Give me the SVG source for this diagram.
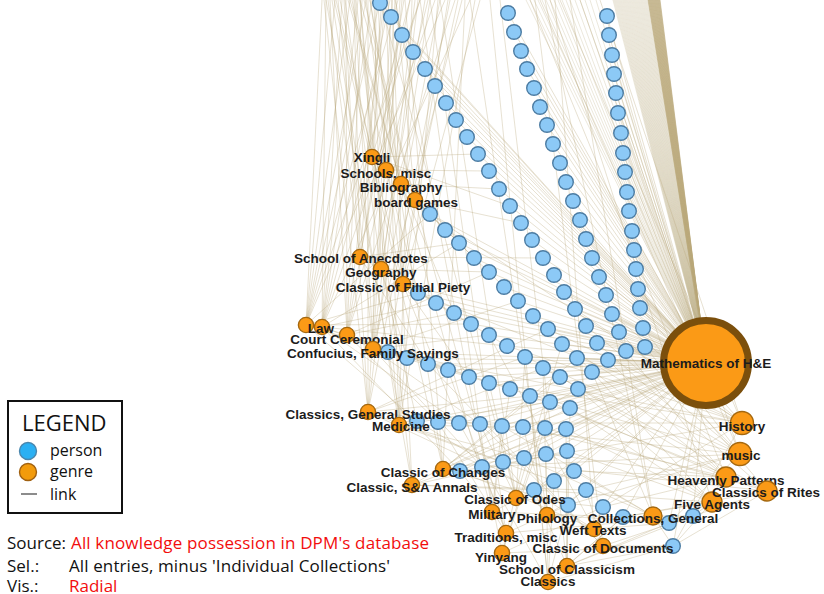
<svg xmlns="http://www.w3.org/2000/svg" width="824" height="594" viewBox="0 0 824 594">
<style>
.e{fill:none;stroke:#b9a77a;stroke-opacity:.45;stroke-width:.75}
.eh{fill:none;stroke:#bba97a;stroke-opacity:.7;stroke-width:.9}
.el{fill:none;stroke:#c4b68e;stroke-opacity:.45;stroke-width:.7}
.p circle{fill:#8cc9f6;stroke:#4c7ca3;stroke-width:1.4}
.g circle{fill:#fb9a16;stroke:#a5680f;stroke-width:1.4}
.g text{font-family:"Liberation Sans",Arial,sans-serif;font-weight:bold;font-size:13.5px;fill:#1c1c1c;text-anchor:middle}
.lg{font-family:"Open Sans","Noto Sans",sans-serif;fill:#111}
.red{fill:#f20d0d}
</style>
<rect width="824" height="594" fill="#fff"/>
<g id="connectors">
<path class="eh" d="M706 363L660 0M706 363L659.5 0M706 363L659 0M706 363L658.5 0M706 363L658 0M706 363L657.5 0M706 363L657 0M706 363L656.5 0M706 363L656 0"/>
<path class="eh" d="M706 363L655.5 0M706 363L655 0M706 363L654.5 0M706 363L654 0M706 363L653.5 0M706 363L653 0M706 363L652.5 0M706 363L652 0"/>
<path class="eh" d="M706 363L651.5 0M706 363L651 0M706 363L650.5 0M706 363L650 0M706 363L649.5 0M706 363L649 0M706 363L648.5 0M706 363L648 0"/>
<path class="el" d="M706 363L647 0M706 363L645 0M706 363L643 0M706 363L641 0M706 363L639 0M706 363L637 0M706 363L635 0M706 363L633 0M706 363L631 0M706 363L629 0M706 363L627 0M706 363L625 0M706 363L623 0M706 363L621 0M706 363L619 0M706 363L617 0M706 363L615 0M706 363L613 0"/>
<path class="el" d="M706 363L646 0M706 363L644 0M706 363L642 0M706 363L640 0M706 363L638 0M706 363L636 0M706 363L634 0M706 363L632 0M706 363L630 0M706 363L628 0M706 363L626 0M706 363L624 0M706 363L622 0M706 363L620 0M706 363L618 0M706 363L616 0M706 363L614 0"/>
<path class="el" d="M706 363L526 0M706 363L530 0M706 363L534 0M706 363L538 0M706 363L542 0M706 363L546 0M706 363L550 0M706 363L554 0M706 363L558 0M706 363L562 0M706 363L566 0M706 363L570 0M706 363L575 0M706 363L580 0M706 363L585 0M706 363L590 0M706 363L596 0"/>
<path class="e" d="M706 363L380 3M706 363L391 17M706 363L402 35M706 363L413 52M706 363L425 69M706 363L435 86M706 363L446 103M706 363L456 120M706 363L467 137M706 363L478 154M706 363L489 171M706 363L499 189M706 363L510 206M706 363L521 223M706 363L532 240M706 363L543 258M706 363L554 275M706 363L564 292M706 363L575 309M706 363L586 326M706 363L597 343M706 363L608 360"/>
<path class="e" d="M706 363L508 13M706 363L514 32M706 363L521 51M706 363L527 69M706 363L534 88M706 363L540 107M706 363L547 125M706 363L553 144M706 363L560 163M706 363L566 182M706 363L573 201M706 363L580 220M706 363L586 239M706 363L592 258M706 363L599 277M706 363L606 295M706 363L612 314M706 363L619 332M706 363L626 351"/>
<path class="e" d="M706 363L607 16M706 363L609 35M706 363L612 55M706 363L614 74M706 363L616 93M706 363L618 113M706 363L621 133M706 363L623 153M706 363L625 172M706 363L627 192M706 363L629 211M706 363L632 231M706 363L634 250M706 363L636 269M706 363L638 289M706 363L640 308M706 363L643 328M706 363L645 347"/>
<path class="e" d="M706 363L430 214M706 363L445 230M706 363L459 243M706 363L474 258M706 363L489 272M706 363L504 287M706 363L518 301M706 363L533 316M706 363L548 329M706 363L562 344M706 363L577 358M706 363L592 372"/>
<path class="e" d="M706 363L418 293M706 363L436 303M706 363L454 313M706 363L471 324M706 363L489 335M706 363L507 346M706 363L525 357M706 363L543 368M706 363L560 377M706 363L578 389"/>
<path class="e" d="M706 363L388 352M706 363L407 358M706 363L428 364M706 363L448 370M706 363L469 377M706 363L489 383M706 363L510 389M706 363L530 396M706 363L550 402M706 363L570 408"/>
<path class="e" d="M706 363L417 421M706 363L438 422M706 363L459 423M706 363L480 424M706 363L502 426M706 363L523 427M706 363L545 428M706 363L566 429"/>
<path class="e" d="M706 363L460 471M706 363L482 467M706 363L503 462M706 363L524 458M706 363L546 454M706 363L567 451M706 363L574 471M706 363L554 481M706 363L534 490M706 363L586 490M706 363L568 505M706 363L603 507M706 363L623 517M706 363L669 523M706 363L693 516M706 363L673 546"/>
<path class="e" d="M306 325L322 0M306 325L335 0M306 325L350 0M306 325L366 0M306 325L380 0M306 325L398 0M306 325L420 0M306 325L445 0M306 325L388 352M306 325L418 293M306 325L430 214M306 325L417 421M306 325L448 370M306 325L471 324"/>
<path class="e" d="M322 327L326 0M322 327L342 0M322 327L358 0M322 327L372 0M322 327L390 0M322 327L410 0M322 327L435 0M322 327L470 0M322 327L407 358M322 327L436 303M322 327L459 243M322 327L459 423M322 327L489 383M322 327L507 346M322 327L460 471"/>
<path class="e" d="M347 335L330 0M347 335L346 0M347 335L362 0M347 335L384 0M347 335L404 0M347 335L428 0M347 335L455 0M347 335L428 364M347 335L454 313M347 335L438 422M347 335L489 272M347 335L510 389"/>
<path class="e" d="M373 349L338 0M373 349L355 0M373 349L376 0M373 349L395 0M373 349L415 0M373 349L440 0M373 349L462 0M373 349L489 335M373 349L469 377M373 349L480 424M373 349L518 301M373 349L482 467"/>
<path class="e" d="M368 412L324 0M368 412L344 0M368 412L368 0M368 412L392 0M368 412L418 0M368 412L450 0M368 412L502 426M368 412L530 396M368 412L525 357M368 412L503 462M368 412L548 329M368 412L534 490"/>
<path class="e" d="M399 425L332 0M399 425L360 0M399 425L386 0M399 425L412 0M399 425L438 0M399 425L475 0M399 425L523 427M399 425L550 402M399 425L543 368M399 425L524 458M399 425L554 481"/>
<path class="e" d="M372 157L340 0M372 157L360 0M372 157L385 0M372 157L420 0M372 157L478 154M372 157L445 230M372 157L510 206"/>
<path class="e" d="M386 170L352 0M386 170L378 0M386 170L402 0M386 170L489 171M386 170L474 258M386 170L418 293"/>
<path class="e" d="M401 184L348 0M401 184L370 0M401 184L430 0M401 184L499 189M401 184L430 214M401 184L454 313"/>
<path class="e" d="M415 200L364 0M415 200L396 0M415 200L458 0M415 200L521 223M415 200L504 287M415 200L388 352"/>
<path class="e" d="M360 257L328 0M360 257L354 0M360 257L382 0M360 257L410 0M360 257L459 243M360 257L436 303M360 257L428 364M360 257L543 258"/>
<path class="e" d="M381 269L345 0M381 269L374 0M381 269L400 0M381 269L425 0M381 269L489 272M381 269L471 324M381 269L407 358M381 269L417 421"/>
<path class="e" d="M403 284L336 0M403 284L366 0M403 284L392 0M403 284L448 0M403 284L480 0M403 284L533 316M403 284L507 346M403 284L469 377M403 284L459 423"/>
<path class="e" d="M443 469L334 0M443 469L370 0M443 469L405 0M443 469L465 0M443 469L546 454M443 469L545 428M443 469L570 408M443 469L560 377M443 469L568 505M443 469L577 358"/>
<path class="e" d="M412 485L326 0M412 485L356 0M412 485L388 0M412 485L567 451M412 485L566 429M412 485L534 490M412 485L578 389M412 485L586 490"/>
<path class="e" d="M516 498L380 0M516 498L440 0M516 498L574 471M516 498L480 424M516 498L489 383M516 498L603 507M516 498L562 344M516 498L525 357"/>
<path class="e" d="M492 512L350 0M492 512L420 0M492 512L554 481M492 512L460 471M492 512L502 426M492 512L623 517M492 512L510 389"/>
<path class="e" d="M547 515L470 0M547 515L586 490M547 515L503 462M547 515L523 427M547 515L669 523M547 515L543 368"/>
<path class="e" d="M506 533L360 0M506 533L430 0M506 533L568 505M506 533L482 467M506 533L438 422M506 533L448 370M506 533L693 516"/>
<path class="e" d="M502 553L395 0M502 553L603 507M502 553L524 458M502 553L545 428M502 553L550 402M502 553L673 546"/>
<path class="e" d="M567 566L500 0M567 566L623 517M567 566L669 523M567 566L693 516M567 566L673 546M567 566L567 451M567 566L566 429M567 566L570 408M567 566L534 490"/>
<path class="e" d="M548 582L490 0M548 582L673 546M548 582L623 517M548 582L546 454M548 582L459 423M548 582L530 396M548 582L568 505M548 582L554 481"/>
<path class="e" d="M594 529L555 0M594 529L669 523M594 529L603 507M594 529L460 471M594 529L417 421M594 529L489 335"/>
<path class="e" d="M603 546L535 0M603 546L693 516M603 546L673 546M603 546L586 490M603 546L480 424M603 546L428 364"/>
<path class="e" d="M653 516L545 0M653 516L570 0M653 516L669 523M653 516L693 516M653 516L673 546M653 516L574 471M653 516L524 458M653 516L502 426M653 516L592 372"/>
<path class="e" d="M712 502L550 0M712 502L693 516M712 502L669 523M712 502L673 546M712 502L623 517M712 502L567 451M712 502L566 429M712 502L578 389M712 502L570 408M712 502L592 372M712 502L534 490"/>
<path class="e" d="M726 477L530 0M726 477L693 516M726 477L603 507M726 477L546 454M726 477L523 427M726 477L560 377M726 477L577 358M726 477L550 402M726 477L608 360M726 477L626 351M726 477L574 471"/>
<path class="e" d="M767 491L693 516M767 491L673 546M767 491L623 517M767 491L545 428M767 491L503 462M767 491L530 396M767 491L543 368M767 491L645 347M767 491L597 343"/>
<path class="e" d="M740 454L540 0M740 454L580 0M740 454L669 523M740 454L586 490M740 454L482 467M740 454L438 422M740 454L510 389M740 454L525 357M740 454L562 344M740 454L619 332M740 454L586 326M740 454L643 328M740 454L568 505"/>
<path class="e" d="M742 423L560 0M742 423L600 0M742 423L673 546M742 423L603 507M742 423L460 471M742 423L459 423M742 423L489 383M742 423L507 346M742 423L548 329M742 423L575 309M742 423L612 314M742 423L640 308M742 423L388 352M742 423L418 293M742 423L430 214"/>
</g>
<g id="persons">
<g id="n-A0" class="p"><circle cx="380" cy="3" r="7.3"/></g>
<g id="n-A1" class="p"><circle cx="391" cy="17" r="7.3"/></g>
<g id="n-A2" class="p"><circle cx="402" cy="35" r="7.3"/></g>
<g id="n-A3" class="p"><circle cx="413" cy="52" r="7.3"/></g>
<g id="n-A4" class="p"><circle cx="425" cy="69" r="7.3"/></g>
<g id="n-A5" class="p"><circle cx="435" cy="86" r="7.3"/></g>
<g id="n-A6" class="p"><circle cx="446" cy="103" r="7.3"/></g>
<g id="n-A7" class="p"><circle cx="456" cy="120" r="7.3"/></g>
<g id="n-A8" class="p"><circle cx="467" cy="137" r="7.3"/></g>
<g id="n-A9" class="p"><circle cx="478" cy="154" r="7.3"/></g>
<g id="n-A10" class="p"><circle cx="489" cy="171" r="7.3"/></g>
<g id="n-A11" class="p"><circle cx="499" cy="189" r="7.3"/></g>
<g id="n-A12" class="p"><circle cx="510" cy="206" r="7.3"/></g>
<g id="n-A13" class="p"><circle cx="521" cy="223" r="7.3"/></g>
<g id="n-A14" class="p"><circle cx="532" cy="240" r="7.3"/></g>
<g id="n-A15" class="p"><circle cx="543" cy="258" r="7.3"/></g>
<g id="n-A16" class="p"><circle cx="554" cy="275" r="7.3"/></g>
<g id="n-A17" class="p"><circle cx="564" cy="292" r="7.3"/></g>
<g id="n-A18" class="p"><circle cx="575" cy="309" r="7.3"/></g>
<g id="n-A19" class="p"><circle cx="586" cy="326" r="7.3"/></g>
<g id="n-A20" class="p"><circle cx="597" cy="343" r="7.3"/></g>
<g id="n-A21" class="p"><circle cx="608" cy="360" r="7.3"/></g>
<g id="n-B0" class="p"><circle cx="508" cy="13" r="7.3"/></g>
<g id="n-B1" class="p"><circle cx="514" cy="32" r="7.3"/></g>
<g id="n-B2" class="p"><circle cx="521" cy="51" r="7.3"/></g>
<g id="n-B3" class="p"><circle cx="527" cy="69" r="7.3"/></g>
<g id="n-B4" class="p"><circle cx="534" cy="88" r="7.3"/></g>
<g id="n-B5" class="p"><circle cx="540" cy="107" r="7.3"/></g>
<g id="n-B6" class="p"><circle cx="547" cy="125" r="7.3"/></g>
<g id="n-B7" class="p"><circle cx="553" cy="144" r="7.3"/></g>
<g id="n-B8" class="p"><circle cx="560" cy="163" r="7.3"/></g>
<g id="n-B9" class="p"><circle cx="566" cy="182" r="7.3"/></g>
<g id="n-B10" class="p"><circle cx="573" cy="201" r="7.3"/></g>
<g id="n-B11" class="p"><circle cx="580" cy="220" r="7.3"/></g>
<g id="n-B12" class="p"><circle cx="586" cy="239" r="7.3"/></g>
<g id="n-B13" class="p"><circle cx="592" cy="258" r="7.3"/></g>
<g id="n-B14" class="p"><circle cx="599" cy="277" r="7.3"/></g>
<g id="n-B15" class="p"><circle cx="606" cy="295" r="7.3"/></g>
<g id="n-B16" class="p"><circle cx="612" cy="314" r="7.3"/></g>
<g id="n-B17" class="p"><circle cx="619" cy="332" r="7.3"/></g>
<g id="n-B18" class="p"><circle cx="626" cy="351" r="7.3"/></g>
<g id="n-C0" class="p"><circle cx="607" cy="16" r="7.3"/></g>
<g id="n-C1" class="p"><circle cx="609" cy="35" r="7.3"/></g>
<g id="n-C2" class="p"><circle cx="612" cy="55" r="7.3"/></g>
<g id="n-C3" class="p"><circle cx="614" cy="74" r="7.3"/></g>
<g id="n-C4" class="p"><circle cx="616" cy="93" r="7.3"/></g>
<g id="n-C5" class="p"><circle cx="618" cy="113" r="7.3"/></g>
<g id="n-C6" class="p"><circle cx="621" cy="133" r="7.3"/></g>
<g id="n-C7" class="p"><circle cx="623" cy="153" r="7.3"/></g>
<g id="n-C8" class="p"><circle cx="625" cy="172" r="7.3"/></g>
<g id="n-C9" class="p"><circle cx="627" cy="192" r="7.3"/></g>
<g id="n-C10" class="p"><circle cx="629" cy="211" r="7.3"/></g>
<g id="n-C11" class="p"><circle cx="632" cy="231" r="7.3"/></g>
<g id="n-C12" class="p"><circle cx="634" cy="250" r="7.3"/></g>
<g id="n-C13" class="p"><circle cx="636" cy="269" r="7.3"/></g>
<g id="n-C14" class="p"><circle cx="638" cy="289" r="7.3"/></g>
<g id="n-C15" class="p"><circle cx="640" cy="308" r="7.3"/></g>
<g id="n-C16" class="p"><circle cx="643" cy="328" r="7.3"/></g>
<g id="n-C17" class="p"><circle cx="645" cy="347" r="7.3"/></g>
<g id="n-D0" class="p"><circle cx="430" cy="214" r="7.3"/></g>
<g id="n-D1" class="p"><circle cx="445" cy="230" r="7.3"/></g>
<g id="n-D2" class="p"><circle cx="459" cy="243" r="7.3"/></g>
<g id="n-D3" class="p"><circle cx="474" cy="258" r="7.3"/></g>
<g id="n-D4" class="p"><circle cx="489" cy="272" r="7.3"/></g>
<g id="n-D5" class="p"><circle cx="504" cy="287" r="7.3"/></g>
<g id="n-D6" class="p"><circle cx="518" cy="301" r="7.3"/></g>
<g id="n-D7" class="p"><circle cx="533" cy="316" r="7.3"/></g>
<g id="n-D8" class="p"><circle cx="548" cy="329" r="7.3"/></g>
<g id="n-D9" class="p"><circle cx="562" cy="344" r="7.3"/></g>
<g id="n-D10" class="p"><circle cx="577" cy="358" r="7.3"/></g>
<g id="n-D11" class="p"><circle cx="592" cy="372" r="7.3"/></g>
<g id="n-E0" class="p"><circle cx="418" cy="293" r="7.3"/></g>
<g id="n-E1" class="p"><circle cx="436" cy="303" r="7.3"/></g>
<g id="n-E2" class="p"><circle cx="454" cy="313" r="7.3"/></g>
<g id="n-E3" class="p"><circle cx="471" cy="324" r="7.3"/></g>
<g id="n-E4" class="p"><circle cx="489" cy="335" r="7.3"/></g>
<g id="n-E5" class="p"><circle cx="507" cy="346" r="7.3"/></g>
<g id="n-E6" class="p"><circle cx="525" cy="357" r="7.3"/></g>
<g id="n-E7" class="p"><circle cx="543" cy="368" r="7.3"/></g>
<g id="n-E8" class="p"><circle cx="560" cy="377" r="7.3"/></g>
<g id="n-E9" class="p"><circle cx="578" cy="389" r="7.3"/></g>
<g id="n-F0" class="p"><circle cx="388" cy="352" r="7.3"/></g>
<g id="n-F1" class="p"><circle cx="407" cy="358" r="7.3"/></g>
<g id="n-F2" class="p"><circle cx="428" cy="364" r="7.3"/></g>
<g id="n-F3" class="p"><circle cx="448" cy="370" r="7.3"/></g>
<g id="n-F4" class="p"><circle cx="469" cy="377" r="7.3"/></g>
<g id="n-F5" class="p"><circle cx="489" cy="383" r="7.3"/></g>
<g id="n-F6" class="p"><circle cx="510" cy="389" r="7.3"/></g>
<g id="n-F7" class="p"><circle cx="530" cy="396" r="7.3"/></g>
<g id="n-F8" class="p"><circle cx="550" cy="402" r="7.3"/></g>
<g id="n-F9" class="p"><circle cx="570" cy="408" r="7.3"/></g>
<g id="n-G0" class="p"><circle cx="417" cy="421" r="7.3"/></g>
<g id="n-G1" class="p"><circle cx="438" cy="422" r="7.3"/></g>
<g id="n-G2" class="p"><circle cx="459" cy="423" r="7.3"/></g>
<g id="n-G3" class="p"><circle cx="480" cy="424" r="7.3"/></g>
<g id="n-G4" class="p"><circle cx="502" cy="426" r="7.3"/></g>
<g id="n-G5" class="p"><circle cx="523" cy="427" r="7.3"/></g>
<g id="n-G6" class="p"><circle cx="545" cy="428" r="7.3"/></g>
<g id="n-G7" class="p"><circle cx="566" cy="429" r="7.3"/></g>
<g id="n-H0" class="p"><circle cx="460" cy="471" r="7.3"/></g>
<g id="n-H1" class="p"><circle cx="482" cy="467" r="7.3"/></g>
<g id="n-H2" class="p"><circle cx="503" cy="462" r="7.3"/></g>
<g id="n-H3" class="p"><circle cx="524" cy="458" r="7.3"/></g>
<g id="n-H4" class="p"><circle cx="546" cy="454" r="7.3"/></g>
<g id="n-H5" class="p"><circle cx="567" cy="451" r="7.3"/></g>
<g id="n-K0" class="p"><circle cx="574" cy="471" r="7.3"/></g>
<g id="n-K1" class="p"><circle cx="554" cy="481" r="7.3"/></g>
<g id="n-K2" class="p"><circle cx="534" cy="490" r="7.3"/></g>
<g id="n-K3" class="p"><circle cx="586" cy="490" r="7.3"/></g>
<g id="n-K4" class="p"><circle cx="568" cy="505" r="7.3"/></g>
<g id="n-K5" class="p"><circle cx="603" cy="507" r="7.3"/></g>
<g id="n-K6" class="p"><circle cx="623" cy="517" r="7.3"/></g>
<g id="n-K7" class="p"><circle cx="669" cy="523" r="7.3"/></g>
<g id="n-K8" class="p"><circle cx="693" cy="516" r="7.3"/></g>
<g id="n-K9" class="p"><circle cx="673" cy="546" r="7.3"/></g>
</g>
<g id="genres">
<g id="hub-mathematics" class="g"><circle cx="706" cy="363" r="42.5" style="stroke:#7b4f0c;stroke-width:7"/><text x="706" y="368">Mathematics of H&amp;E</text></g>
<g id="g-unlabeled" class="g"><circle cx="306" cy="325" r="7.6"/></g>
<g id="g-xingli" class="g"><circle cx="372" cy="157" r="7.6"/><text x="372" y="162">Xingli</text></g>
<g id="g-schools-misc" class="g"><circle cx="386" cy="170" r="7.6"/><text x="386" y="177.5">Schools, misc</text></g>
<g id="g-bibliography" class="g"><circle cx="401" cy="184" r="7.6"/><text x="401" y="191.5">Bibliography</text></g>
<g id="g-board-games" class="g"><circle cx="415" cy="200" r="7.6"/><text x="416" y="206.5">board games</text></g>
<g id="g-school-anecdotes" class="g"><circle cx="360" cy="257" r="7.6"/><text x="361" y="262.5">School of Anecdotes</text></g>
<g id="g-geography" class="g"><circle cx="381" cy="269" r="7.6"/><text x="381" y="277">Geography</text></g>
<g id="g-filial-piety" class="g"><circle cx="403" cy="284" r="7.6"/><text x="403" y="291.5">Classic of Filial Piety</text></g>
<g id="g-law" class="g"><circle cx="322" cy="327" r="7.6"/><text x="321" y="332.5">Law</text></g>
<g id="g-court-ceremonial" class="g"><circle cx="347" cy="335" r="7.6"/><text x="347" y="343.5">Court Ceremonial</text></g>
<g id="g-confucius" class="g"><circle cx="373" cy="349" r="7.6"/><text x="373" y="357.5">Confucius, Family Sayings</text></g>
<g id="g-general-studies" class="g"><circle cx="368" cy="412" r="7.6"/><text x="368" y="418.5">Classics, General Studies</text></g>
<g id="g-medicine" class="g"><circle cx="399" cy="425" r="7.6"/><text x="401" y="430.5">Medicine</text></g>
<g id="g-changes" class="g"><circle cx="443" cy="469" r="7.6"/><text x="443" y="476.5">Classic of Changes</text></g>
<g id="g-sa-annals" class="g"><circle cx="412" cy="485" r="7.6"/><text x="412" y="491.5">Classic, S&amp;A Annals</text></g>
<g id="g-odes" class="g"><circle cx="516" cy="498" r="7.6"/><text x="515" y="503.5">Classic of Odes</text></g>
<g id="g-military" class="g"><circle cx="492" cy="512" r="7.6"/><text x="492" y="518.5">Military</text></g>
<g id="g-philology" class="g"><circle cx="547" cy="515" r="7.6"/><text x="547" y="522.5">Philology</text></g>
<g id="g-traditions" class="g"><circle cx="506" cy="533" r="7.6"/><text x="506" y="541.5">Traditions, misc</text></g>
<g id="g-yinyang" class="g"><circle cx="502" cy="553" r="7.6"/><text x="501" y="561.5">Yinyang</text></g>
<g id="g-weft-texts" class="g"><circle cx="594" cy="529" r="7.6"/><text x="593" y="534.5">Weft Texts</text></g>
<g id="g-documents" class="g"><circle cx="603" cy="546" r="7.6"/><text x="603" y="552.5">Classic of Documents</text></g>
<g id="g-classicism" class="g"><circle cx="567" cy="566" r="7.6"/><text x="567" y="573.5">School of Classicism</text></g>
<g id="g-classics" class="g"><circle cx="548" cy="582" r="7.6"/><text x="548" y="585.5">Classics</text></g>
<g id="g-collections" class="g"><circle cx="653" cy="516" r="9"/><text x="653" y="522.5">Collections, General</text></g>
<g id="g-five-agents" class="g"><circle cx="712" cy="502" r="10"/><text x="712" y="508.5">Five Agents</text></g>
<g id="g-heavenly" class="g"><circle cx="726" cy="477" r="10"/><text x="726" y="484.5">Heavenly Patterns</text></g>
<g id="g-rites" class="g"><circle cx="767" cy="491" r="10"/><text x="766" y="496.5">Classics of Rites</text></g>
<g id="g-music" class="g"><circle cx="740" cy="454" r="11.5"/><text x="741" y="459.5">music</text></g>
<g id="g-history" class="g"><circle cx="742" cy="423" r="11.5"/><text x="742" y="430.5">History</text></g>
</g>
<g id="legend">
<rect x="8" y="401" width="114" height="112" fill="#fff" stroke="#111" stroke-width="2"/>
<text class="lg" x="22" y="431" font-size="22">LEGEND</text>
<circle cx="28" cy="451" r="8.5" fill="#2bb0f3" stroke="#4a86ad" stroke-width="1.4"/>
<text class="lg" x="50" y="456" font-size="16">person</text>
<circle cx="28" cy="472" r="8.5" fill="#f29b0c" stroke="#a06010" stroke-width="1.4"/>
<text class="lg" x="50" y="477" font-size="16">genre</text>
<line x1="21" y1="494" x2="37" y2="494" stroke="#666" stroke-width="1.5"/>
<text class="lg" x="50" y="500" font-size="16">link</text>
</g>
<g id="caption" font-size="17">
<text class="lg" x="7" y="549">Source:</text>
<text class="lg red" x="71" y="549" textLength="358">All knowledge possession in DPM's database</text>
<text class="lg" x="7" y="572">Sel.:</text>
<text class="lg" x="69" y="572" textLength="321">All entries, minus 'Individual Collections'</text>
<text class="lg" x="7" y="592">Vis.:</text>
<text class="lg red" x="69" y="592">Radial</text>
</g>
</svg>
